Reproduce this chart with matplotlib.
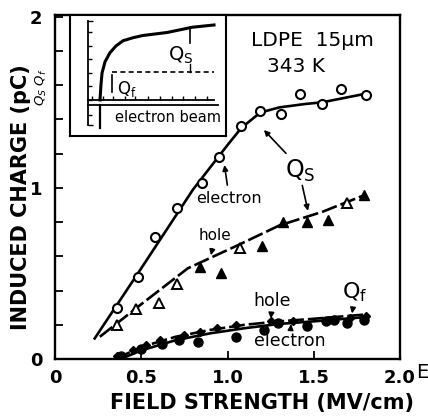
import matplotlib
matplotlib.use('Agg')
import matplotlib.pyplot as plt

plt.rcParams['font.family'] = ['DejaVu Sans']

# Qs, electron injection (open circles) and the drawn curve
qs_e_E = [0.36, 0.48, 0.58, 0.71, 0.85, 0.95, 1.08, 1.19, 1.31, 1.42, 1.55, 1.66, 1.80]
qs_e_Q = [0.30, 0.48, 0.71, 0.88, 1.03, 1.18, 1.36, 1.45, 1.43, 1.55, 1.49, 1.58, 1.54]
fit_qs_e_E = [0.23, 0.50, 0.80, 1.00, 1.08, 1.19, 1.30, 1.45, 1.55, 1.80]
fit_qs_e_Q = [0.12, 0.53, 0.99, 1.25, 1.35, 1.44, 1.47, 1.49, 1.50, 1.55]

# Qs, hole injection (triangles)
qs_h_open_E = [0.36, 0.47, 0.60, 0.71, 1.07, 1.69]
qs_h_open_Q = [0.20, 0.29, 0.33, 0.44, 0.65, 0.91]
qs_h_fill_E = [0.84, 0.96, 1.20, 1.32, 1.46, 1.58, 1.79]
qs_h_fill_Q = [0.54, 0.50, 0.66, 0.80, 0.80, 0.81, 0.96]
fit_qs_h_E = [0.26, 0.50, 0.77, 1.05, 1.30, 1.55, 1.80]
fit_qs_h_Q = [0.13, 0.32, 0.53, 0.66, 0.78, 0.86, 0.96]

# Qf, hole (small filled diamonds) and electron (filled circles)
qf_h_E = [0.36, 0.45, 0.53, 0.61, 0.75, 0.84, 0.94, 1.05, 1.25, 1.38, 1.58, 1.71, 1.80]
qf_h_Q = [0.02, 0.05, 0.08, 0.11, 0.14, 0.16, 0.18, 0.20, 0.22, 0.22, 0.23, 0.24, 0.25]
qf_e_E = [0.38, 0.50, 0.62, 0.72, 0.83, 1.05, 1.21, 1.29, 1.46, 1.57, 1.62, 1.69, 1.79]
qf_e_Q = [0.02, 0.06, 0.09, 0.11, 0.10, 0.13, 0.17, 0.21, 0.19, 0.22, 0.23, 0.21, 0.23]
fit_qf_h_E = [0.35, 0.50, 0.70, 0.90, 1.10, 1.30, 1.50, 1.80]
fit_qf_h_Q = [0.00, 0.07, 0.13, 0.17, 0.20, 0.22, 0.235, 0.26]
fit_qf_e_E = [0.38, 0.50, 0.70, 0.90, 1.10, 1.30, 1.50, 1.80]
fit_qf_e_Q = [0.00, 0.05, 0.11, 0.15, 0.18, 0.205, 0.22, 0.245]

xticks = [0, 0.5, 1.0, 1.5, 2.0]
xticklabels = ['0', '0.5', '1.0', '1.5', '2.0']
yticks = [0, 1, 2]

# inset sketch: charge vs time after the electron beam is switched on
ins_t = [0, 0.08, 0.17, 0.42, 0.83, 1.33, 1.92, 2.75, 3.58, 5.6, 7.7, 8.9, 9.5]
ins_q = [0, 0.20, 0.36, 0.51, 0.63, 0.72, 0.79, 0.83, 0.86, 0.90, 0.97, 0.99, 1.0]
ins_qf = 0.37
ins_ticks_t = [-0.7, 0.25, 1.1, 2.1, 2.9, 4.0, 5.0, 6.0, 6.9, 7.9, 8.9]
ins_ticks_q = [-0.2, 0.0, 0.18, 0.36, 0.54, 0.72, 0.9]

fig = plt.figure(figsize=(4.28, 4.16), dpi=100)
ax = fig.add_axes([55/428, 1-359/416, 345/428, 344/416])

lw = 1.9
ax.plot(fit_qs_e_E, fit_qs_e_Q, '-', color='k', lw=lw)
ax.plot(qs_e_E, qs_e_Q, 'o', mfc='white', mec='k', ms=6.5, mew=1.5)

ax.plot(fit_qs_h_E, fit_qs_h_Q, color='k', lw=lw, linestyle=(0, (6, 1.5)))
ax.plot(qs_h_open_E, qs_h_open_Q, '^', mfc='white', mec='k', ms=6.5, mew=1.4)
ax.plot(qs_h_fill_E, qs_h_fill_Q, '^', color='k', ms=6.5)

ax.plot(fit_qf_h_E, fit_qf_h_Q, color='k', lw=lw, linestyle=(0, (6, 1.5)))
ax.plot(fit_qf_e_E, fit_qf_e_Q, '-', color='k', lw=lw)
ax.plot(qf_h_E, qf_h_Q, 'D', color='k', ms=4)
ax.plot(qf_e_E, qf_e_Q, 'o', color='k', ms=6.5)

ax.set_xlim(0, 2.0)
ax.set_ylim(0, 2.01)
ax.set_xticks(xticks)
ax.set_xticklabels(xticklabels, fontweight='bold')
ax.set_yticks(yticks)
ax.set_yticklabels([str(v) for v in yticks], fontweight='bold')
ax.yaxis.set_minor_locator(plt.MultipleLocator(0.2))
ax.tick_params(which='both', direction='in', length=6, width=1.3, labelsize=13)
ax.tick_params(axis='x', pad=7)
ax.tick_params(axis='y', pad=9)
for s in ax.spines.values():
    s.set_linewidth(1.7)

ax.set_xlabel('FIELD STRENGTH (MV/cm)', fontsize=15, fontweight='bold')
ax.xaxis.set_label_coords(0.60, -0.10)
ax.set_ylabel('INDUCED CHARGE (pC)', fontsize=15, fontweight='bold')
ax.yaxis.set_label_coords(-0.07, 0.47)
ax.text(-0.04, 0.79, r'$Q_S\ Q_f$', transform=ax.transAxes, rotation=90,
        ha='center', va='center', fontsize=9.5)
ax.text(1.065, -0.04, 'E', transform=ax.transAxes, ha='center', va='center', fontsize=14)

ax.text(1.49, 1.86, 'LDPE  15μm', ha='center', va='center', fontsize=14.5)
ax.text(1.40, 1.71, '343 K', ha='center', va='center', fontsize=14.5)

arr = dict(arrowstyle='-|>', color='k', lw=1.2, mutation_scale=8)
ax.text(1.42, 1.10, r'$\mathregular{Q_S}$', ha='center', va='center', fontsize=17)
ax.annotate('', xy=(1.20, 1.35), xytext=(1.35, 1.19), arrowprops=arr)
ax.annotate('', xy=(1.47, 0.85), xytext=(1.43, 1.03), arrowprops=arr)
ax.annotate('electron', xy=(0.98, 1.15), xytext=(1.01, 0.94), ha='center', va='center',
            fontsize=11.5, arrowprops=arr)
ax.annotate('hole', xy=(0.90, 0.59), xytext=(0.93, 0.72), ha='center', va='center',
            fontsize=11, arrowprops=arr)
ax.annotate('hole', xy=(1.25, 0.22), xytext=(1.26, 0.34), ha='center', va='center',
            fontsize=12.5, arrowprops=arr)
ax.annotate('electron', xy=(1.37, 0.22), xytext=(1.36, 0.105), ha='center', va='center',
            fontsize=12.5, arrowprops=arr)
ax.annotate(r'$\mathregular{Q_f}$', xy=(1.72, 0.25), xytext=(1.74, 0.39), ha='center',
            va='center', fontsize=16, arrowprops=arr)

# inset
axi = fig.add_axes([70/428, 1-136/416, 156/428, 121/416])
axi.set_xlim(-2.5, 10.5)
axi.set_ylim(-0.48, 1.133)
axi.set_xticks([])
axi.set_yticks([])
for s in axi.spines.values():
    s.set_linewidth(1.5)
axi.plot(ins_t, ins_q, color='k', lw=2.2)
axi.plot([-1, 9.5], [0, 0], color='k', lw=1.3)
axi.vlines(ins_ticks_t, 0, 0.05, color='k', lw=1.0)
axi.plot([-1, -1], [-0.33, 1.05], color='k', lw=1.3)
axi.hlines(ins_ticks_q, -1, -0.65, color='k', lw=1.0)
axi.hlines([-0.33, 1.05], -1, -0.6, color='k', lw=1.0)
axi.plot([-1, 9.8], [-0.067, -0.067], color='k', lw=1.3)
axi.plot([0, 0], [-0.067, -0.37], color='k', lw=1.6)
axi.plot([1.0, 9.5], [ins_qf, ins_qf], color='k', lw=1.2, linestyle=(0, (3, 2)))
axi.plot([7.5, 7.5], [0.97, 0.76], color='k', lw=1.2)
axi.plot([7.5, 7.5], [0.48, ins_qf], color='k', lw=1.0)
axi.text(6.7, 0.6, r'$\mathregular{Q_S}$', ha='center', va='center', fontsize=14)
axi.plot([1.0, 1.0], [0.33, 0.1], color='k', lw=1.2)
axi.text(2.2, 0.15, r'$\mathregular{Q_f}$', ha='center', va='center', fontsize=12)
axi.text(1.25, -0.24, 'electron beam', ha='left', va='center', fontsize=10.5, clip_on=True)

fig.savefig('out.png', dpi=100)
